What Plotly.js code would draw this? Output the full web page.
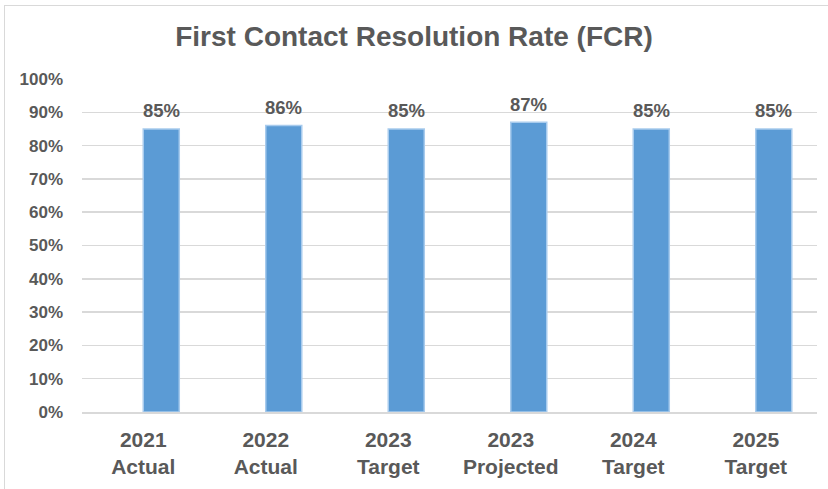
<!DOCTYPE html>
<html>
<head>
<meta charset="utf-8">
<script src="https://cdn.plot.ly/plotly-3.0.1.min.js"></script>
<style>
  html, body { margin: 0; padding: 0; background: #fff; }
  #wrap { position: relative; width: 828px; height: 489px; overflow: hidden; }
  #chart { width: 828px; height: 489px; }
  #frame { position: absolute; left: 4px; top: 5px; width: 900px; height: 600px;
           border: 1px solid #d9d9d9; pointer-events: none; }
</style>
</head>
<body>
<div id="wrap">
  <div id="chart"></div>
  <div id="frame"></div>
</div>
<script>
const categories = ["2021<br>Actual", "2022<br>Actual", "2023<br>Target", "2023<br>Projected", "2024<br>Target", "2025<br>Target"];
const fcrValues = [0.85, 0.86, 0.85, 0.87, 0.85, 0.85];
const yTickValues = [0, 0.1, 0.2, 0.3, 0.4, 0.5, 0.6, 0.7, 0.8, 0.9, 1.0];

const fontFam = "Liberation Sans, Arial, sans-serif";
const textCol = "#595959";
const barWidth = 0.294;

const trace = {
  type: "bar",
  x: categories,
  y: fcrValues,
  width: barWidth,
  offset: 0,
  marker: { color: "#5b9bd5", line: { color: "#a8cbed", width: 1.5 } },
  hoverinfo: "skip"
};

const labels = fcrValues.map((v, i) => ({
  x: i + barWidth / 2,
  y: v,
  xref: "x",
  yref: "y",
  text: Math.round(v * 100) + "%",
  showarrow: false,
  xanchor: "center",
  yanchor: "middle",
  yshift: 18,
  font: { family: fontFam, size: 18.5, color: textCol, weight: "bold" }
}));

const layout = {
  width: 828,
  height: 489,
  margin: { l: 82, r: 11, t: 79, b: 77, pad: 0 },
  paper_bgcolor: "#ffffff",
  plot_bgcolor: "#ffffff",
  showlegend: false,
  title: {
    text: "First Contact Resolution Rate (FCR)",
    font: { family: fontFam, size: 28, color: textCol, weight: "bold" },
    x: 0.5, xanchor: "center",
    y: 1 - 36 / 489, yanchor: "middle", yref: "container"
  },
  annotations: labels,
  xaxis: {
    type: "category",
    tickfont: { family: fontFam, size: 21, color: textCol, weight: "bold" },
    showgrid: false,
    showline: true,
    linecolor: "#d9d9d9",
    linewidth: 1.5,
    ticks: "",
    ticklabelstandoff: 8,
    fixedrange: true
  },
  yaxis: {
    range: [0, 1.0],
    tickvals: yTickValues,
    tickformat: ".0%",
    tickfont: { family: fontFam, size: 17, color: textCol, weight: "bold" },
    showgrid: true,
    gridcolor: "#d9d9d9",
    gridwidth: 1.5,
    zeroline: false,
    showline: false,
    ticks: "",
    ticklabelstandoff: 18,
    fixedrange: true
  }
};

Plotly.newPlot("chart", [trace], layout, { displayModeBar: false, staticPlot: true });
</script>
</body>
</html>
